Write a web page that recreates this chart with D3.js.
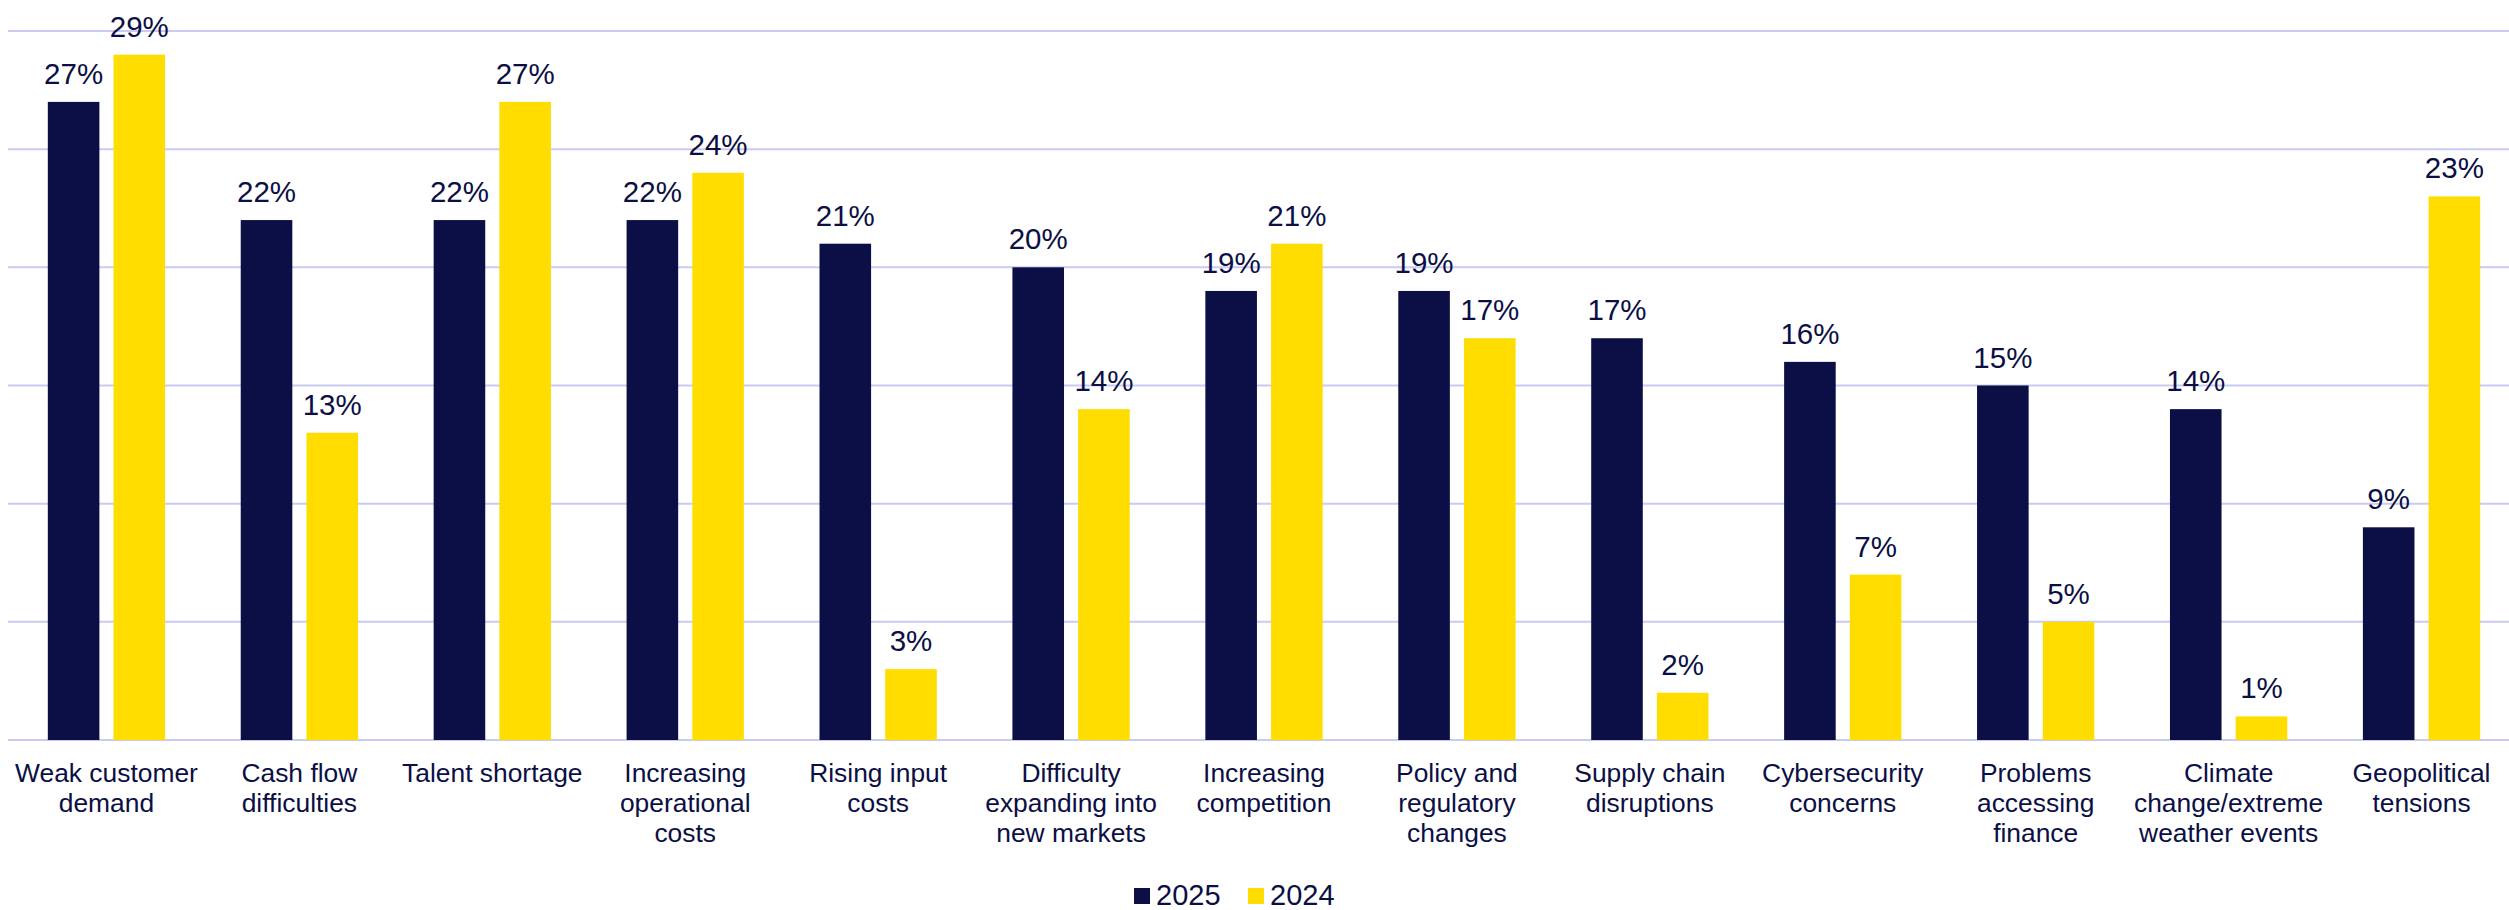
<!DOCTYPE html>
<html>
<head>
<meta charset="utf-8">
<script src="https://cdn.jsdelivr.net/npm/d3@7"></script>
<style>
  html, body { margin: 0; padding: 0; background: #ffffff; }
  svg { display: block; font-family: "Liberation Sans", Arial, sans-serif; }
</style>
</head>
<body>
<svg id="chart" width="2509" height="910"></svg>
<script>
// Business challenges, share of respondents (%)
const categories = [
  "Weak customer|demand",
  "Cash flow|difficulties",
  "Talent shortage",
  "Increasing|operational|costs",
  "Rising input|costs",
  "Difficulty|expanding into|new markets",
  "Increasing|competition",
  "Policy and|regulatory|changes",
  "Supply chain|disruptions",
  "Cybersecurity|concerns",
  "Problems|accessing|finance",
  "Climate|change/extreme|weather events",
  "Geopolitical|tensions"
];
const seriesNames = ["2025", "2024"];
const values2025 = [27, 22, 22, 22, 21, 20, 19, 19, 17, 16, 15, 14, 9];
const values2024 = [29, 13, 27, 24, 3, 14, 21, 17, 2, 7, 5, 1, 23];
const gridTicks = [0, 5, 10, 15, 20, 25, 30];

const colors = { "2025": "#0b0f45", "2024": "#ffdd00" };
const textColor = "#0b0f45";
const gridColor = "#c9cbf2";

const rows = categories.map((c, i) => ({
  category: c,
  values: [
    { series: "2025", value: values2025[i] },
    { series: "2024", value: values2024[i] }
  ]
}));

const svg = d3.select("#chart");

const x0 = d3.scaleBand()
  .domain(categories)
  .range([10, 2518])
  .paddingInner(0.392)
  .paddingOuter(0.196);

const x1 = d3.scaleBand()
  .domain(seriesNames)
  .range([0, x0.bandwidth()])
  .paddingInner(0.215);

const y = d3.scaleLinear()
  .domain([0, 30])
  .range([740, 31]);

// horizontal gridlines
svg.append("g")
  .selectAll("line")
  .data(gridTicks)
  .join("line")
  .attr("x1", 8)
  .attr("x2", 2509)
  .attr("y1", d => y(d))
  .attr("y2", d => y(d))
  .attr("stroke", gridColor)
  .attr("stroke-width", 2);

// bars and value labels
const groups = svg.append("g")
  .selectAll("g")
  .data(rows)
  .join("g")
  .attr("transform", d => `translate(${x0(d.category)},0)`);

groups.selectAll("rect")
  .data(d => d.values)
  .join("rect")
  .attr("x", d => x1(d.series))
  .attr("width", x1.bandwidth())
  .attr("y", d => y(d.value))
  .attr("height", d => y(0) - y(d.value))
  .attr("fill", d => colors[d.series]);

groups.selectAll("text.value")
  .data(d => d.values)
  .join("text")
  .attr("class", "value")
  .attr("x", d => x1(d.series) + x1.bandwidth() / 2)
  .attr("y", d => y(d.value) - 18)
  .attr("text-anchor", "middle")
  .attr("font-size", 29.5)
  .attr("fill", textColor)
  .text(d => d.value + "%");

// category labels on the x axis
const catLabels = svg.append("g")
  .selectAll("text")
  .data(categories)
  .join("text")
  .attr("x", d => x0(d) + x0.bandwidth() / 2)
  .attr("y", 782)
  .attr("text-anchor", "middle")
  .attr("font-size", 26.4)
  .attr("fill", textColor);

catLabels.selectAll("tspan")
  .data(d => d.split("|"))
  .join("tspan")
  .attr("x", function () { return d3.select(this.parentNode).attr("x"); })
  .attr("dy", (d, i) => i === 0 ? 0 : 30)
  .text(d => d);

// legend
const legendItems = [
  { name: "2025", x: 1134 },
  { name: "2024", x: 1248 }
];
const legend = svg.append("g")
  .selectAll("g")
  .data(legendItems)
  .join("g")
  .attr("transform", d => `translate(${d.x},888)`);

legend.append("rect")
  .attr("width", 16)
  .attr("height", 16)
  .attr("fill", d => colors[d.name]);

legend.append("text")
  .attr("x", 22)
  .attr("y", 17)
  .attr("font-size", 29)
  .attr("fill", textColor)
  .text(d => d.name);
</script>
</body>
</html>
